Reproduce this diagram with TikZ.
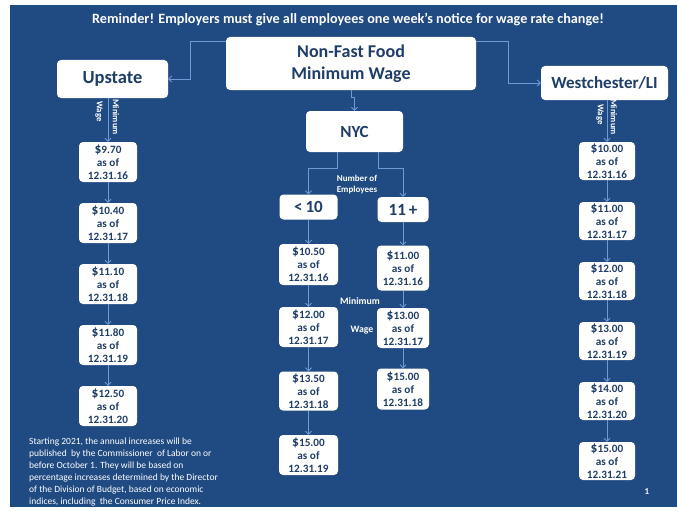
\documentclass[tikz,border=0pt]{standalone}
\usepackage{fontspec}
\setmainfont{Carlito}
\usetikzlibrary{arrows.meta}
\definecolor{slidebg}{RGB}{32,74,130}
\definecolor{boxtext}{RGB}{31,61,105}
\definecolor{arrowc}{RGB}{110,155,215}
\tikzset{
  wbox/.style={fill=white, rounded corners=4pt, text=boxtext, align=center, inner sep=0pt},
  bigbox/.style={wbox, font=\bfseries\fontsize{17}{19}\selectfont},
  amtbox/.style={wbox, minimum width=58pt, minimum height=40pt, font=\bfseries\fontsize{11.2}{13}\selectfont},
  conn/.style={draw=arrowc, line width=0.8pt, -{Straight Barb[length=3pt,width=6pt]}},
  wtxt/.style={text=white, font=\bfseries\fontsize{8.8}{10}\selectfont, inner sep=0pt},
}
\newcommand{\amt}[2]{{\fontsize{13.5}{13}\selectfont\$}#1\\as of\\#2}
\begin{document}
\begin{tikzpicture}[x=1pt,y=-1pt]
\useasboundingbox (0,0) rectangle (677,511);
\fill[white] (0,0) rectangle (677,511);
\fill[slidebg] (10,5) rectangle (677,507);

\node[text=white, font=\bfseries\fontsize{14.2}{16}\selectfont] (title) at (348,20)
  {Reminder! Employers must give all employees one week’s notice for wage rate change!};

\node[wbox, minimum width=250pt, minimum height=53pt, font=\bfseries\fontsize{18}{22}\selectfont] (main) at (351,63.5) {Non-Fast Food\\Minimum Wage};
\node[wbox, font=\bfseries\fontsize{18.5}{19}\selectfont, minimum width=111pt, minimum height=38pt] (up) at (112.5,79) {Upstate};
\node[bigbox, minimum width=127pt, minimum height=34pt] (wl) at (604.5,83) {Westchester/LI};
\node[bigbox, minimum width=97pt, minimum height=41pt] (nyc) at (354.5,131.5) {NYC};
\node[bigbox, minimum width=58pt, minimum height=25pt] (lt) at (308.5,207) {<\,10};
\node[bigbox, minimum width=51pt, minimum height=25pt] (gt) at (403,209.5) {11\,+};

\draw[conn] ([yshift=-5pt]main.north west) -| (190,79) -- (up.east);
\draw[conn] ([yshift=-5pt]main.north east) -| (508,83) -- (wl.west);
\draw[conn] (main.south) -- ++(0,7) -| (nyc.north);
\draw[conn] ([xshift=-17.5pt]nyc.south) -- ++(0,16) -| (lt.north);
\draw[conn] ([xshift=23.5pt]nyc.south) -- ++(0,16) -| (gt.north);

\node[wtxt, align=center, font=\bfseries\fontsize{9}{11}\selectfont] (noe) at (357,185) {Number of\\Employees};

% Upstate column
\node[amtbox] (u1) at (108,162) {\amt{9.70}{12.31.16}};
\node[amtbox] (u2) at (108,223) {\amt{10.40}{12.31.17}};
\node[amtbox] (u3) at (108,284) {\amt{11.10}{12.31.18}};
\node[amtbox] (u4) at (108,345) {\amt{11.80}{12.31.19}};
\node[amtbox] (u5) at (108,406) {\amt{12.50}{12.31.20}};
\draw[conn] (up.south -| u1.north) -- (u1.north);
\draw[conn] (u1) -- (u2);
\draw[conn] (u2) -- (u3);
\draw[conn] (u3) -- (u4);
\draw[conn] (u4) -- (u5);
\node[wtxt, rotate=-90, anchor=west] (umin) at (116,99) {Minimum};
\node[wtxt, rotate=-90, anchor=west] (uwage) at (99,101) {Wage};

% Westchester column
\node[amtbox, minimum width=56pt, minimum height=38pt] (w1) at (607,161) {\amt{10.00}{12.31.16}};
\node[amtbox, minimum width=56pt, minimum height=38pt] (w2) at (607,221) {\amt{11.00}{12.31.17}};
\node[amtbox, minimum width=56pt, minimum height=38pt] (w3) at (607,281) {\amt{12.00}{12.31.18}};
\node[amtbox, minimum width=56pt, minimum height=38pt] (w4) at (607,341) {\amt{13.00}{12.31.19}};
\node[amtbox, minimum width=56pt, minimum height=38pt] (w5) at (607,401) {\amt{14.00}{12.31.20}};
\node[amtbox, minimum width=56pt, minimum height=38pt] (w6) at (607,461) {\amt{15.00}{12.31.21}};
\draw[conn] (wl.south -| w1.north) -- (w1.north);
\draw[conn] (w1) -- (w2);
\draw[conn] (w2) -- (w3);
\draw[conn] (w3) -- (w4);
\draw[conn] (w4) -- (w5);
\draw[conn] (w5) -- (w6);
\node[wtxt, rotate=-90, anchor=west] (wmin) at (614,99) {Minimum};
\node[wtxt, rotate=-90, anchor=west] (wwage) at (600,104) {Wage};

% NYC <10
\node[amtbox, minimum width=59pt, minimum height=41pt] (a1) at (308.5,264.5) {\amt{10.50}{12.31.16}};
\node[amtbox, minimum width=59pt, minimum height=40pt] (a2) at (308.5,327) {\amt{12.00}{12.31.17}};
\node[amtbox, minimum width=59pt, minimum height=39pt] (a3) at (308.5,391) {\amt{13.50}{12.31.18}};
\node[amtbox, minimum width=59pt, minimum height=40pt] (a4) at (308.5,455) {\amt{15.00}{12.31.19}};
\draw[conn] (lt) -- (a1);
\draw[conn] (a1) -- (a2);
\draw[conn] (a2) -- (a3);
\draw[conn] (a3) -- (a4);

% NYC 11+
\node[amtbox, minimum width=52pt, minimum height=45pt] (b1) at (403,268) {\amt{11.00}{12.31.16}};
\node[amtbox, minimum width=52pt, minimum height=40pt] (b2) at (403,328) {\amt{13.00}{12.31.17}};
\node[amtbox, minimum width=52pt, minimum height=41pt] (b3) at (403,389) {\amt{15.00}{12.31.18}};
\draw[conn] (gt) -- (b1);
\draw[conn] (b1) -- (b2);
\draw[conn] (b2) -- (b3);

\node[wtxt, font=\bfseries\fontsize{9.8}{11}\selectfont] (mmin) at (360,301) {Minimum};
\node[wtxt, font=\bfseries\fontsize{9.8}{11}\selectfont] (mwage) at (362,330) {Wage};

\node[text=white, anchor=north west, align=left, inner sep=0pt, font=\fontsize{9.5}{12}\selectfont] (note) at (29,438)
 {Starting 2021, the annual increases will be\\
  published \ by the Commissioner \ of Labor on or\\
  before October 1. They will be based on\\
  percentage increases determined by the Director\\
  of the Division of Budget, based on economic\\
  indices, including \ the Consumer Price Index.};

\node[text=white, font=\bfseries\fontsize{9}{10}\selectfont] (pg) at (647,492) {1};
\end{tikzpicture}
\end{document}
